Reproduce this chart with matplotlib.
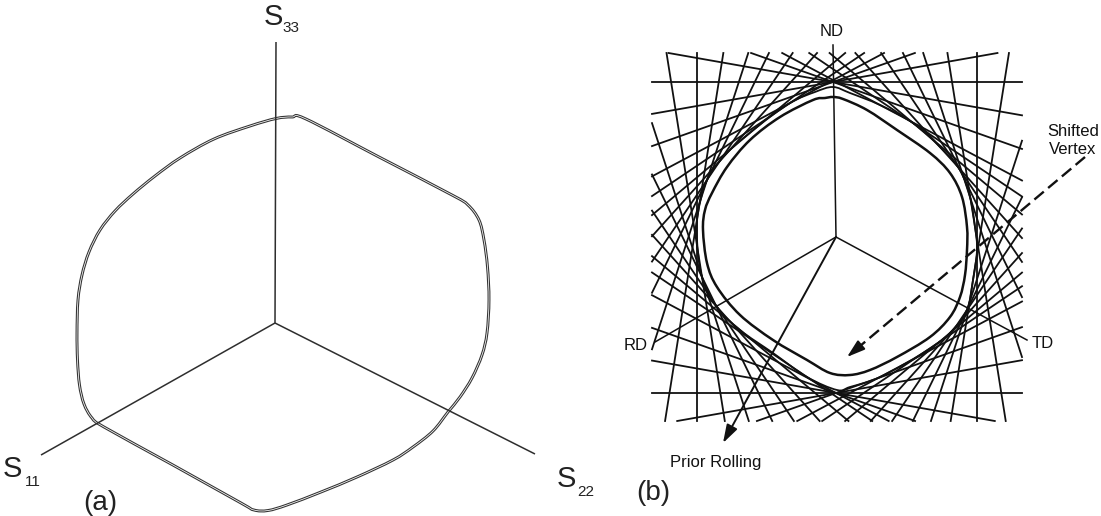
import numpy as np
import matplotlib
matplotlib.use("Agg")
import matplotlib.pyplot as plt
from matplotlib.path import Path
from matplotlib.patches import PathPatch, FancyArrowPatch

plt.rcParams['font.family'] = ['Liberation Sans', 'DejaVu Sans']

W, H = 1101, 516

# ---------------- panel (a) data (pixel coordinates, y downward) ----------------
a_center = (275, 323)
a_axis_names = ["11", "22", "33"]
a_axis_end_x = [41, 535, 276]
a_axis_end_y = [455, 454, 42]
a_label_S_x = [12, 566, 273]
a_label_S_y = [469, 479, 17]
a_label_sub_x = [33, 586, 291]
a_label_sub_y = [482, 492, 28]
a_curve_x = [276, 292, 306, 379, 452, 468, 479, 484, 487.5, 489, 487, 482, 472, 460, 448,
             433, 413, 393, 357, 321, 287, 268, 254, 241, 172, 104, 92, 84, 79.5, 77.5, 77, 78,
             82, 89, 100, 115, 133, 155, 180, 214, 250]
a_curve_y = [118.5, 117, 119, 157, 195, 205, 220, 240, 267, 300, 333, 355, 378, 397, 412,
             431, 447, 460, 477, 492, 505, 510.5, 510, 503, 464.5, 427, 418, 404, 385, 360, 333, 300,
             275, 252, 230, 211, 194, 176, 158, 139, 126]

# ---------------- panel (b) data ----------------
b_center = (836, 237)
b_axis_names = ["RD", "TD", "ND"]
b_axis_end_x = [655, 1027, 833]
b_axis_end_y = [342, 340, 45]
b_inner_x = [833, 843, 867, 897, 930, 950, 962, 967, 967, 965, 960, 950, 930, 897, 870, 850,
             830, 807, 773, 740, 717, 707, 703, 705, 712, 727, 750, 780, 813, 825]
b_inner_y = [97, 99, 110, 130, 153, 173, 197, 227, 250, 275, 297, 317, 337, 357, 370, 375,
             373, 360, 340, 315, 287, 263, 230, 210, 193, 167, 140, 117, 100, 98]
b_outer_x = [833, 850, 880, 913, 940, 960, 970, 975, 977, 973, 967, 950, 923, 880, 850, 837,
             807, 773, 740, 717, 702, 697, 698, 707, 727, 757, 790, 815]
b_outer_y = [87, 93, 105, 123, 147, 170, 197, 227, 250, 280, 310, 333, 353, 377, 387, 390,
             377, 353, 330, 307, 277, 240, 213, 180, 153, 127, 103, 92]
b_vertex_x = [833, 836]
b_vertex_y = [82, 393]
b_line_dirs_deg = [0, 10, -10, 19.5, -19.5, 28, -28, 34, -34, 40, -40, 48, -48,
                   56, -56, 64, -64, 72, -72, 81, -81, 90]
b_box_x = [652, 1022]
b_box_y = [53, 421]
b_rolling = [(836, 237), (723, 443)]
b_shift = [(1085, 157), (847, 357)]


def smooth_closed_path(xs, ys):
    P = np.column_stack([xs, ys]).astype(float)
    n = len(P)
    verts = [P[0]]
    codes = [Path.MOVETO]
    for i in range(n):
        p0, p1, p2, p3 = P[i - 1], P[i], P[(i + 1) % n], P[(i + 2) % n]
        verts += [p1 + (p2 - p0) / 6.0, p2 - (p3 - p1) / 6.0, p2]
        codes += [Path.CURVE4] * 3
    return Path(verts, codes)


def clip_line(c, nrm, d, bx, by):
    t = np.array([-nrm[1], nrm[0]])
    p0 = np.array(c) + d * nrm
    smin, smax = -1e9, 1e9
    for k, (lo, hi) in enumerate((bx, by)):
        if abs(t[k]) < 1e-12:
            if not (lo <= p0[k] <= hi):
                return None
        else:
            s1, s2 = (lo - p0[k]) / t[k], (hi - p0[k]) / t[k]
            smin, smax = max(smin, min(s1, s2)), min(smax, max(s1, s2))
    if smin >= smax:
        return None
    return p0 + smin * t, p0 + smax * t


fig = plt.figure(figsize=(W / 100, H / 100), dpi=100)
ax = fig.add_axes([0, 0, 1, 1])
ax.set_xlim(0, W)
ax.set_ylim(H, 0)
ax.axis('off')

# ---------------- panel (a) ----------------
ca = '#2e2e2e'
for ex, ey in zip(a_axis_end_x, a_axis_end_y):
    ax.plot([a_center[0], ex], [a_center[1], ey], color=ca, lw=1.1, solid_capstyle='butt')
pa = smooth_closed_path(a_curve_x, a_curve_y)
ax.add_patch(PathPatch(pa, fill=False, edgecolor='#333333', lw=2.1))
ax.add_patch(PathPatch(pa, fill=False, edgecolor='white', lw=0.55))
for name, sx, sy, ux, uy in zip(a_axis_names, a_label_S_x, a_label_S_y,
                                a_label_sub_x, a_label_sub_y):
    ax.text(sx, sy, 'S', fontsize=21, ha='center', va='center', color='#222')
    ax.text(ux, uy, name, fontsize=11, ha='center', va='center', color='#222')
ax.text(100, 503, '(a)', fontsize=20, ha='center', va='center', color='#222')

# ---------------- panel (b) ----------------
cb = '#111111'
env = np.column_stack([list(b_outer_x) + b_vertex_x, list(b_outer_y) + b_vertex_y]).astype(float)
rel = env - np.array(b_center)
for a in b_line_dirs_deg:
    r = np.radians(a)
    nrm = np.array([np.sin(r), np.cos(r)])  # normal in image coords
    proj = rel @ nrm
    for d in (proj.max(), proj.min()):
        seg = clip_line(b_center, nrm, d, b_box_x, b_box_y)
        if seg is not None:
            ax.plot([seg[0][0], seg[1][0]], [seg[0][1], seg[1][1]], color=cb, lw=1.3)

ax.add_patch(PathPatch(smooth_closed_path(b_outer_x, b_outer_y), fill=False, edgecolor=cb, lw=1.3))
ax.add_patch(PathPatch(smooth_closed_path(b_inner_x, b_inner_y), fill=False, edgecolor=cb, lw=1.8))

for ex, ey in zip(b_axis_end_x, b_axis_end_y):
    ax.plot([b_center[0], ex], [b_center[1], ey], color=cb, lw=1.1)

# Prior rolling arrow
ax.add_patch(FancyArrowPatch(b_rolling[0], b_rolling[1],
                             arrowstyle='-|>,head_length=11,head_width=3.5',
                             mutation_scale=1, color=cb, lw=1.4, shrinkA=0, shrinkB=0))
# Shifted vertex dashed arrow
p0 = np.array(b_shift[0], float)
p1 = np.array(b_shift[1], float)
u = (p1 - p0) / np.linalg.norm(p1 - p0)
ln, = ax.plot([p0[0], p1[0] - 10 * u[0]], [p0[1], p1[1] - 10 * u[1]], color=cb, lw=1.7)
ln.set_dashes([5.2, 2.4])
ax.add_patch(FancyArrowPatch(tuple(p1 - 12 * u), tuple(p1),
                             arrowstyle='-|>,head_length=11,head_width=3.5',
                             mutation_scale=1, color=cb, lw=1.4, shrinkA=0, shrinkB=0))

ax.text(832, 31, 'ND', fontsize=12, ha='center', va='center', color=cb)
ax.text(648, 345, 'RD', fontsize=12, ha='right', va='center', color=cb)
ax.text(1032, 343, 'TD', fontsize=12, ha='left', va='center', color=cb)
ax.text(1073, 131, 'Shifted', fontsize=12, ha='center', va='center', color=cb)
ax.text(1073, 150, 'Vertex', fontsize=12, ha='center', va='center', color=cb)
ax.text(716, 462, 'Prior Rolling', fontsize=12, ha='center', va='center', color=cb)
ax.text(653, 493, '(b)', fontsize=20, ha='center', va='center', color='#222')

fig.savefig('out.png', dpi=100)
